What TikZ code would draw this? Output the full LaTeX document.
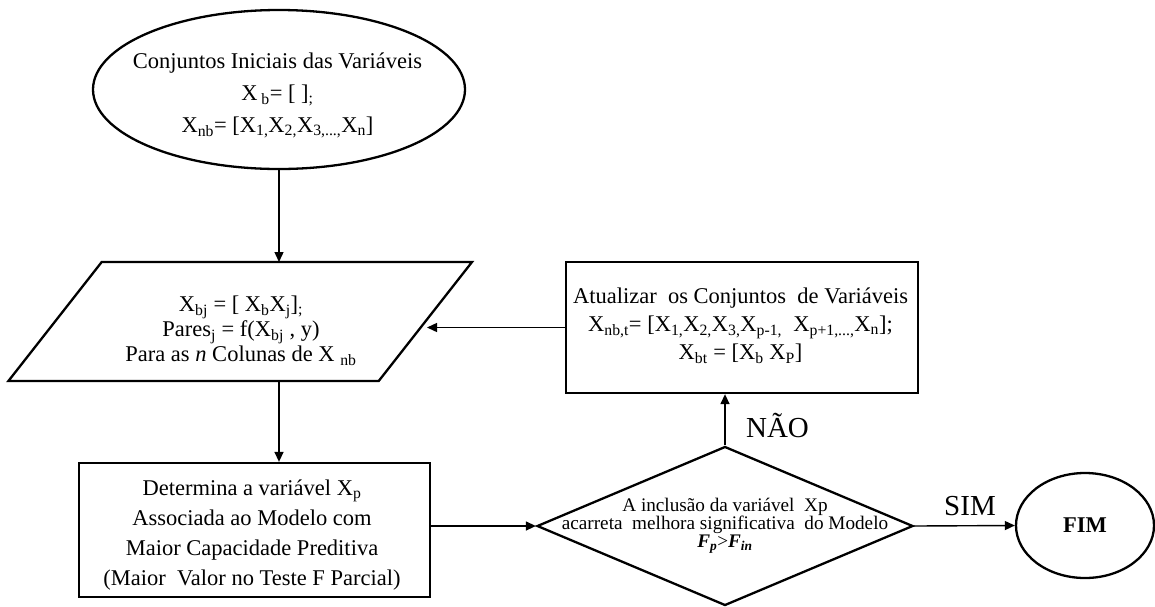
\documentclass[tikz,border=0pt]{standalone}
\usepackage{fontspec}
\setmainfont{Liberation Serif}
\usetikzlibrary{shapes.geometric,arrows.meta}

\tikzset{
  shp/.style={draw, line width=2.3pt, inner sep=0pt},
  txt/.style={align=center, inner sep=0pt},
  body/.style={txt, font=\fontsize{22.5}{#1}\selectfont},
  body/.default=30,
  conn/.style={line width=1.4pt, -{Triangle[length=10pt,width=9pt]}},
  answer/.style={inner sep=0pt, font=\fontsize{29}{30}\selectfont},
}

\begin{document}
\begin{tikzpicture}[x=1pt, y=-1pt]
  \useasboundingbox (0,0) rectangle (1155,606);
  \fill[white] (0,0) rectangle (1155,606);

  % start: initial variable sets
  \node[shp, ellipse, minimum width=372pt, minimum height=159pt] (ini) at (279,89.5) {};
  \node[body=32] (initxt) at (277.5,95.5)
    {Conjuntos Iniciais das Variáveis\\
     X\,\textsubscript{b}= [ ]\textsubscript{;}\\
     X\textsubscript{nb}= [X\textsubscript{1,}X\textsubscript{2,}X\textsubscript{3,...,}X\textsubscript{n}]};

  % input/output step: candidate pairs
  \coordinate (pTL) at (101.7,262);
  \coordinate (pTR) at (472,262);
  \coordinate (pBR) at (378.7,381);
  \coordinate (pBL) at (8.4,381);
  \draw[shp, line join=miter] (pTL) -- (pTR) -- (pBR) -- (pBL) -- cycle;
  \node[body=25] (pares) at (241,331)
    {X\textsubscript{bj} = [ X\textsubscript{b}X\textsubscript{j}]\textsubscript{;}\\
     Pares\textsubscript{j} = f(X\textsubscript{bj} , y)\\
     Para as \textit{n} Colunas de X \textsubscript{nb}};
  \coordinate (pEdge) at (427,327.5);

  % process: choose best variable
  \node[shp, rectangle, minimum width=351pt, minimum height=134pt] (det) at (254.5,530) {};
  \node[body=30] (dettxt) at (252,535)
    {Determina a variável X\textsubscript{p}\\
     Associada ao Modelo com\\
     Maior Capacidade Preditiva\\
     (Maior\ \ Valor no Teste F Parcial)};

  % decision
  \node[shp, diamond, minimum width=376pt, minimum height=159pt] (dec) at (725,526) {};
  \node[txt, font=\fontsize{19.2}{18}\selectfont] (dectxt) at (725,526)
    {A inclusão da variável\ \ Xp\\
     acarreta\ \ melhora significativa\ \ do Modelo\\
     \textbf{\textit{F\textsubscript{p}}}>\textbf{\textit{F\textsubscript{in}}}};

  % update step
  \node[shp, rectangle, minimum width=352pt, minimum height=131pt] (atu) at (742,327.5) {};
  \node[body=28] (atutxt) at (740.5,326)
    {Atualizar\ \ os Conjuntos\ \ de Variáveis\\
     X\textsubscript{nb,t}= [X\textsubscript{1,}X\textsubscript{2,}X\textsubscript{3,}X\textsubscript{p-1,}\ \ X\textsubscript{p+1,...,}X\textsubscript{n}];\\
     X\textsubscript{bt} = [X\textsubscript{b} X\textsubscript{P}]};

  % end
  \node[shp, ellipse, minimum width=138pt, minimum height=105pt,
        font=\fontsize{22.5}{24}\selectfont\bfseries] (fim) at (1085,525.5) {FIM};

  % connectors
  \draw[conn] (ini.south) -- (ini.south |- pTL);
  \draw[conn] (ini.south |- pBL) -- (ini.south |- det.north);
  \draw[conn] (det.east |- dec.west) -- (dec.west);
  \draw[conn] (dec.north) -- (dec.north |- atu.south);
  \draw[conn] (atu.west) -- (pEdge);
  \draw[conn] (dec.east) -- (fim.west);

  % branch labels
  \node[answer, anchor=base] (no) at (777.5,437) {NÃO};
  \node[answer, anchor=base] (yes) at (970,515) {SIM};
\end{tikzpicture}
\end{document}
